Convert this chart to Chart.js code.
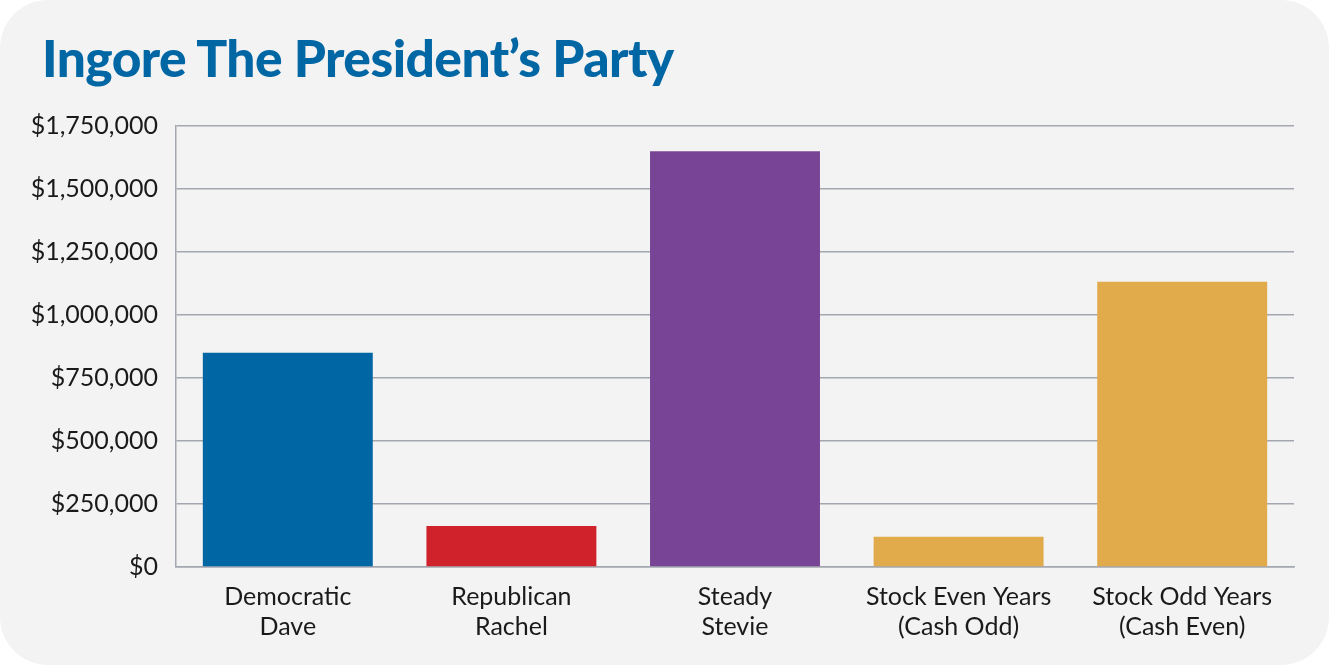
<!DOCTYPE html>
<html>
<head>
<meta charset="utf-8">
<script src="https://cdn.jsdelivr.net/npm/chart.js@4"></script>
<style>
  html, body { margin: 0; padding: 0; background: #ffffff; }
  #card {
    position: relative;
    width: 1329px;
    height: 665px;
    background: #f3f3f3;
    border-radius: 48px;
    overflow: hidden;
  }
  #title {
    position: absolute;
    left: 42px;
    top: 26px;
    margin: 0;
    font-family: Lato, sans-serif;
    font-weight: 900;
    font-size: 51.5px;
    color: #0066a4;
    letter-spacing: -0.55px;
  }
  #chart-wrap { position: absolute; left: 0; top: 0; width: 1329px; height: 665px; }
</style>
</head>
<body>
<div id="card">
  <h1 id="title">Ingore The President’s Party</h1>
  <div id="chart-wrap"><canvas id="bar-chart"></canvas></div>
</div>
<script>
  // Chart data
  const categories = [
    ["Democratic", "Dave"],
    ["Republican", "Rachel"],
    ["Steady", "Stevie"],
    ["Stock Even Years", "(Cash Odd)"],
    ["Stock Odd Years", "(Cash Even)"],
  ];
  const endingValues = [850000, 163000, 1650000, 120000, 1132000];
  const barColors = ["#0066a4", "#d0222b", "#784496", "#e1ab4c", "#e1ab4c"];

  const gridColor = "#a3a8b0";
  const textColor = "#1a1a1a";

  const ctx = document.getElementById("bar-chart").getContext("2d");
  new Chart(ctx, {
    type: "bar",
    data: {
      labels: categories,
      datasets: [
        {
          label: "Ending Value",
          data: endingValues,
          backgroundColor: barColors,
          borderWidth: 0,
          barPercentage: 0.76,
          categoryPercentage: 1.0,
        },
      ],
    },
    options: {
      responsive: true,
      maintainAspectRatio: false,
      animation: false,
      layout: {
        padding: { top: 126, right: 35, bottom: 0, left: 0 },
      },
      plugins: {
        legend: { display: false },
        tooltip: { enabled: false },
      },
      scales: {
        x: {
          grid: { display: false, drawTicks: false },
          border: { display: true, color: gridColor, width: 1.5 },
          ticks: {
            color: textColor,
            font: { family: "Lato", size: 25 },
            padding: 15,
            maxRotation: 0,
          },
          afterFit: (scale) => {
            scale.height = 98;
          },
        },
        y: {
          min: 0,
          max: 1750000,
          grid: { color: gridColor, lineWidth: 1.5, drawTicks: false },
          border: { display: true, color: gridColor, width: 1.5 },
          ticks: {
            stepSize: 250000,
            color: textColor,
            font: { family: "Lato", size: 25 },
            padding: 18,
            callback: (value) => "$" + value.toLocaleString("en-US"),
          },
          afterFit: (scale) => {
            scale.width = 176;
          },
        },
      },
    },
  });
</script>
</body>
</html>
